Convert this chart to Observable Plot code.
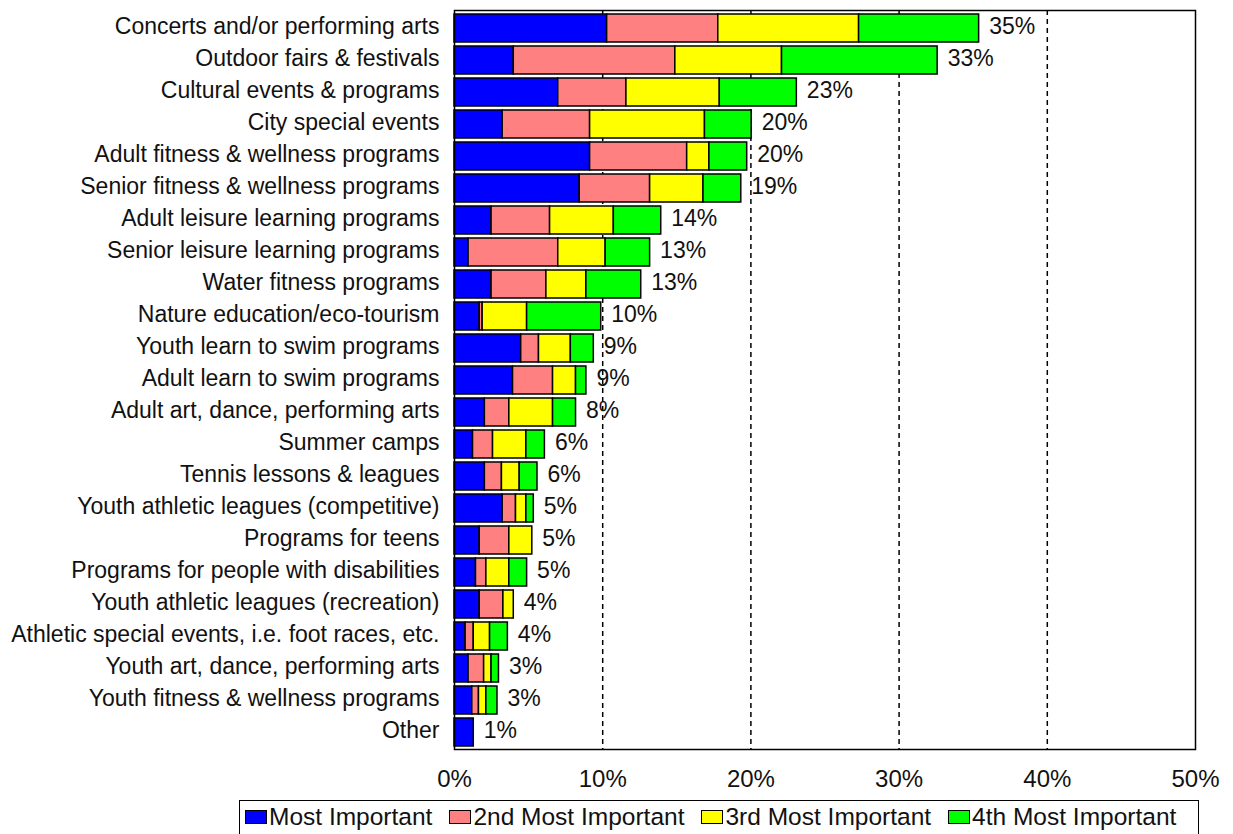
<!DOCTYPE html>
<html>
<head>
<meta charset="utf-8">
<script src="https://cdn.jsdelivr.net/npm/d3@7"></script>
<script src="https://cdn.jsdelivr.net/npm/@observablehq/plot@0.6"></script>
<style>
  html, body { margin: 0; padding: 0; background: #fff; }
  #wrap { position: relative; width: 1233px; height: 834px; font-family: "Liberation Sans", Arial, sans-serif; overflow: hidden; }
  #chart { position: absolute; left: 0; top: 0; }
  #legend { position: absolute; left: 239px; top: 800px; width: 960px; height: 36px; box-sizing: border-box;
            border: 1.5px solid #000; display: flex; align-items: center; padding-left: 5px; padding-bottom: 2px;
            font-family: "Liberation Sans", Arial, sans-serif; font-size: 24.5px; color: #111; white-space: nowrap; }
  .item { display: flex; align-items: center; margin-right: 17px; }
  .sw { width: 22px; height: 14px; box-sizing: border-box; border: 1.5px solid #000; margin-right: 2px; }
</style>
</head>
<body>
<div id="wrap">
  <div id="chart"></div>
  <div id="legend"></div>
</div>
<script>
const categories = [
  "Concerts and/or performing arts",
  "Outdoor fairs & festivals",
  "Cultural events & programs",
  "City special events",
  "Adult fitness & wellness programs",
  "Senior fitness & wellness programs",
  "Adult leisure learning programs",
  "Senior leisure learning programs",
  "Water fitness programs",
  "Nature education/eco-tourism",
  "Youth learn to swim programs",
  "Adult learn to swim programs",
  "Adult art, dance, performing arts",
  "Summer camps",
  "Tennis lessons & leagues",
  "Youth athletic leagues (competitive)",
  "Programs for teens",
  "Programs for people with disabilities",
  "Youth athletic leagues (recreation)",
  "Athletic special events, i.e. foot races, etc.",
  "Youth art, dance, performing arts",
  "Youth fitness & wellness programs",
  "Other"
];
const seriesNames = ["Most Important", "2nd Most Important", "3rd Most Important", "4th Most Important"];
const seriesColors = ["#0000FF", "#FF8080", "#FFFF00", "#00FF00"];

const mostImportant = [10.3, 4.0, 7.0, 3.25, 9.15, 8.45, 2.5, 0.95, 2.5, 1.7, 4.5, 3.95, 2.05, 1.25, 2.05, 3.25, 1.7, 1.45, 1.7, 0.75, 0.95, 1.2, 1.3];
const second        = [7.5, 10.9, 4.6, 5.9, 6.55, 4.75, 3.95, 6.05, 3.7, 0.2, 1.2, 2.7, 1.65, 1.35, 1.15, 0.9, 2.0, 0.7, 1.6, 0.55, 1.05, 0.45, 0];
const third         = [9.5, 7.2, 6.3, 7.75, 1.5, 3.6, 4.3, 3.2, 2.7, 3.0, 2.15, 1.55, 2.95, 2.25, 1.2, 0.7, 1.55, 1.55, 0.7, 1.1, 0.5, 0.5, 0];
const fourth        = [8.1, 10.5, 5.2, 3.15, 2.55, 2.55, 3.2, 3.0, 3.7, 5.0, 1.55, 0.7, 1.55, 1.25, 1.2, 0.5, 0, 1.2, 0, 1.2, 0.5, 0.75, 0];
const totalLabels = ["35%","33%","23%","20%","20%","19%","14%","13%","13%","10%","9%","9%","8%","6%","6%","5%","5%","5%","4%","4%","3%","3%","1%"];
const xTicks = [0, 10, 20, 30, 40, 50];
const gridTicks = [10, 20, 30, 40];

const seriesValues = [mostImportant, second, third, fourth];
const segments = [];
categories.forEach((cat, i) => {
  seriesValues.forEach((vals, s) => {
    if (vals[i] > 0) segments.push({cat, series: seriesNames[s], value: vals[i]});
  });
});
const totals = categories.map((cat, i) => ({
  cat,
  total: seriesValues.reduce((a, v) => a + v[i], 0),
  label: totalLabels[i]
}));

const plot = Plot.plot({
  width: 1233,
  height: 796,
  marginLeft: 454,
  marginRight: 38,
  marginTop: 10,
  marginBottom: 47,
  style: {fontFamily: "'Liberation Sans', Arial, sans-serif", color: "#000", background: "#fff"},
  x: {domain: [0, 50]},
  y: {domain: categories, paddingInner: 0.14, paddingOuter: 0.08},
  color: {domain: seriesNames, range: seriesColors},
  marks: [
    Plot.ruleX(gridTicks, {stroke: "#000", strokeWidth: 1.5, strokeDasharray: "5,4"}),
    Plot.barX(segments, {x: "value", y: "cat", fill: "series", stroke: "#000", strokeWidth: 1.5}),
    Plot.text(totals, {x: "total", y: "cat", text: "label", dx: 10, dy: -2, textAnchor: "start", fontSize: 23, fill: "#111"}),
    Plot.axisY({tickSize: 0, tickPadding: 15, dy: -2, fontSize: 23, label: null, fill: "#111"}),
    Plot.axisX({ticks: xTicks, tickSize: 0, tickPadding: 20, fontSize: 24, label: null, fill: "#111", tickFormat: d => d + "%"}),
    Plot.frame({stroke: "#000", strokeWidth: 1.5})
  ]
});
document.getElementById("chart").appendChild(plot);

const legend = document.getElementById("legend");
seriesNames.forEach((name, i) => {
  const item = document.createElement("div");
  item.className = "item";
  const sw = document.createElement("div");
  sw.className = "sw";
  sw.style.background = seriesColors[i];
  const label = document.createElement("span");
  label.textContent = name;
  item.appendChild(sw);
  item.appendChild(label);
  legend.appendChild(item);
});
</script>
</body>
</html>
